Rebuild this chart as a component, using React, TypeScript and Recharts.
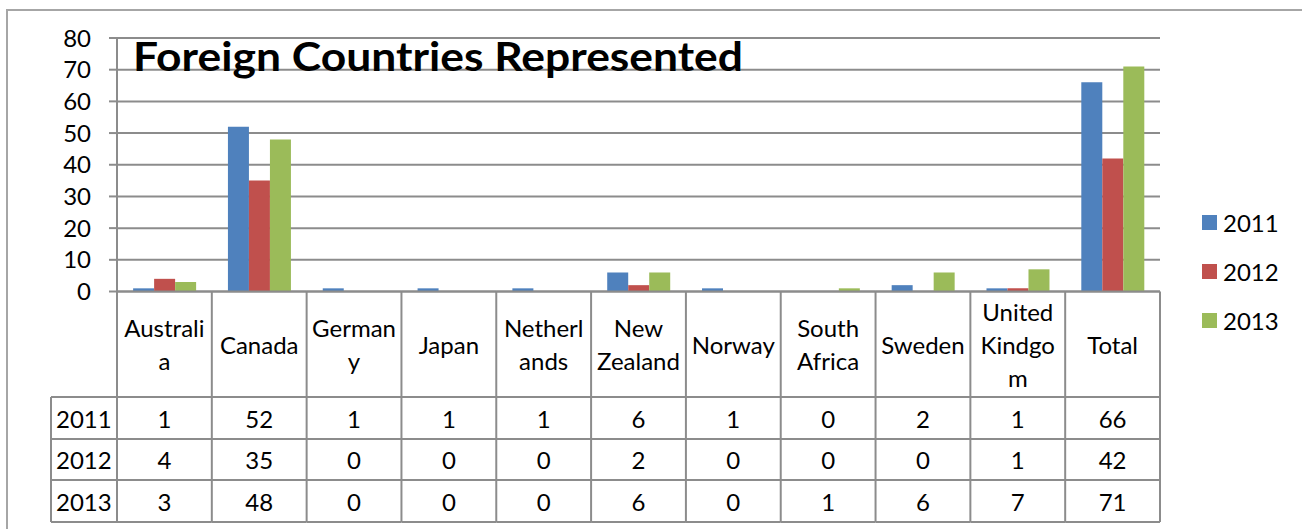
import { Bar, BarChart, CartesianGrid, XAxis, YAxis } from 'recharts'

const categories = [
  'Australia',
  'Canada',
  'Germany',
  'Japan',
  'Netherlands',
  'New Zealand',
  'Norway',
  'South Africa',
  'Sweden',
  'United Kindgom',
  'Total',
]

// how the data table wraps each category name
const categoryLines = [
  ['Australi', 'a'],
  ['Canada'],
  ['German', 'y'],
  ['Japan'],
  ['Netherl', 'ands'],
  ['New', 'Zealand'],
  ['Norway'],
  ['South', 'Africa'],
  ['Sweden'],
  ['United', 'Kindgo', 'm'],
  ['Total'],
]

const years = ['2011', '2012', '2013']
const values2011 = [1, 52, 1, 1, 1, 6, 1, 0, 2, 1, 66]
const values2012 = [4, 35, 0, 0, 0, 2, 0, 0, 0, 1, 42]
const values2013 = [3, 48, 0, 0, 0, 6, 0, 1, 6, 7, 71]
const yTicks = [0, 10, 20, 30, 40, 50, 60, 70, 80]

const colors = ['#4F81BD', '#C0504D', '#9BBB59']
const seriesValues = [values2011, values2012, values2013]

const data = categories.map((name, i) => ({
  name,
  y2011: values2011[i],
  y2012: values2012[i],
  y2013: values2013[i],
}))

const W = 1302
const H = 529
const PLOT_LEFT = 117
const PLOT_RIGHT = 1160
const PLOT_TOP = 38
const PLOT_BOTTOM = 291.5
const BAND = (PLOT_RIGHT - PLOT_LEFT) / categories.length
const ROWS = [PLOT_BOTTOM, 397, 439, 480, 522]
const LINE = '#8c8c8c'
const FONT = 'Lato, "Open Sans", sans-serif'
const FS = 24

function TableColumn(props: any) {
  const { x, index } = props
  const xl = x - BAND / 2
  const xr = x + BAND / 2
  const lines: string[] = categoryLines[index] ?? [String(props.payload?.value)]
  const labelMid = (ROWS[0] + ROWS[1]) / 2
  return (
    <g>
      {index === 0 ? (
        <g>
          <line x1={51} x2={51} y1={ROWS[1]} y2={ROWS[4]} stroke={LINE} strokeWidth={2} />
          {ROWS.slice(1).map((ry) => (
            <line key={ry} x1={51} x2={xl} y1={ry} y2={ry} stroke={LINE} strokeWidth={2} />
          ))}
          {years.map((yr, r) => (
            <text
              key={yr}
              x={56}
              y={(ROWS[r + 1] + ROWS[r + 2]) / 2}
              dominantBaseline='central'
              fontSize={FS}
              fontFamily={FONT}
              fill='#000'
            >
              {yr}
            </text>
          ))}
        </g>
      ) : null}
      <line x1={xl} x2={xl} y1={ROWS[0]} y2={ROWS[4]} stroke={LINE} strokeWidth={2} />
      {index === categories.length - 1 ? (
        <line x1={xr} x2={xr} y1={ROWS[0]} y2={ROWS[4]} stroke={LINE} strokeWidth={2} />
      ) : null}
      {ROWS.map((ry) => (
        <line key={ry} x1={xl} x2={xr} y1={ry} y2={ry} stroke={LINE} strokeWidth={2} />
      ))}
      {lines.map((t, k) => (
        <text
          key={k}
          x={x}
          y={labelMid + (k - (lines.length - 1) / 2) * 33}
          textAnchor='middle'
          dominantBaseline='central'
          fontSize={FS}
          fontFamily={FONT}
          fill='#000'
        >
          {t}
        </text>
      ))}
      {seriesValues.map((vals, r) => (
        <text
          key={r}
          x={x}
          y={(ROWS[r + 1] + ROWS[r + 2]) / 2}
          textAnchor='middle'
          dominantBaseline='central'
          fontSize={FS}
          fontFamily={FONT}
          fill='#000'
        >
          {vals[index]}
        </text>
      ))}
    </g>
  )
}

export default function App() {
  return (
    <div
      style={{
        position: 'absolute',
        left: 0,
        top: 0,
        width: W,
        height: H,
        overflow: 'hidden',
        background: '#fff',
      }}
    >
      <div
        style={{
          position: 'absolute',
          left: 6,
          top: 9,
          width: 1320,
          height: 540,
          border: '2px solid #a6a6a6',
        }}
      />
      <div style={{ position: 'absolute', left: 0, top: 0 }}>
        <BarChart
          width={W}
          height={H}
          data={data}
          margin={{ top: PLOT_TOP, right: W - PLOT_RIGHT, bottom: 0, left: 0 }}
          barCategoryGap='17%'
          barGap={0}
        >
          <CartesianGrid vertical={false} stroke={LINE} strokeWidth={2} />
          <XAxis
            dataKey='name'
            height={H - PLOT_BOTTOM}
            interval={0}
            tickLine={false}
            axisLine={false}
            tick={(p: any) => <TableColumn {...p} />}
          />
          <YAxis
            width={PLOT_LEFT}
            domain={[0, 80]}
            ticks={yTicks}
            interval={0}
            tickSize={8}
            tickMargin={18}
            tickLine={{ stroke: LINE, strokeWidth: 2 }}
            axisLine={{ stroke: LINE, strokeWidth: 2 }}
            tick={{ fill: '#000', fontSize: FS, fontFamily: FONT }}
          />
          <Bar dataKey='y2011' name='2011' fill={colors[0]} isAnimationActive={false} />
          <Bar dataKey='y2012' name='2012' fill={colors[1]} isAnimationActive={false} />
          <Bar dataKey='y2013' name='2013' fill={colors[2]} isAnimationActive={false} />
        </BarChart>
      </div>
      <svg
        width={W}
        height={H}
        style={{ position: 'absolute', left: 0, top: 0, pointerEvents: 'none' }}
      >
        <text
          x={133}
          y={71}
          fontSize={40}
          fontWeight={700}
          fontFamily={FONT}
          textLength={610}
          lengthAdjust='spacingAndGlyphs'
          fill='#000'
        >
          Foreign Countries Represented
        </text>
        {years.map((yr, i) => (
          <g key={yr}>
            <rect x={1202} y={215 + i * 49} width={15} height={15} fill={colors[i]} />
            <text
              x={1223}
              y={222.5 + i * 49}
              dominantBaseline='central'
              fontSize={FS}
              fontFamily={FONT}
              fill='#000'
            >
              {yr}
            </text>
          </g>
        ))}
      </svg>
    </div>
  )
}
